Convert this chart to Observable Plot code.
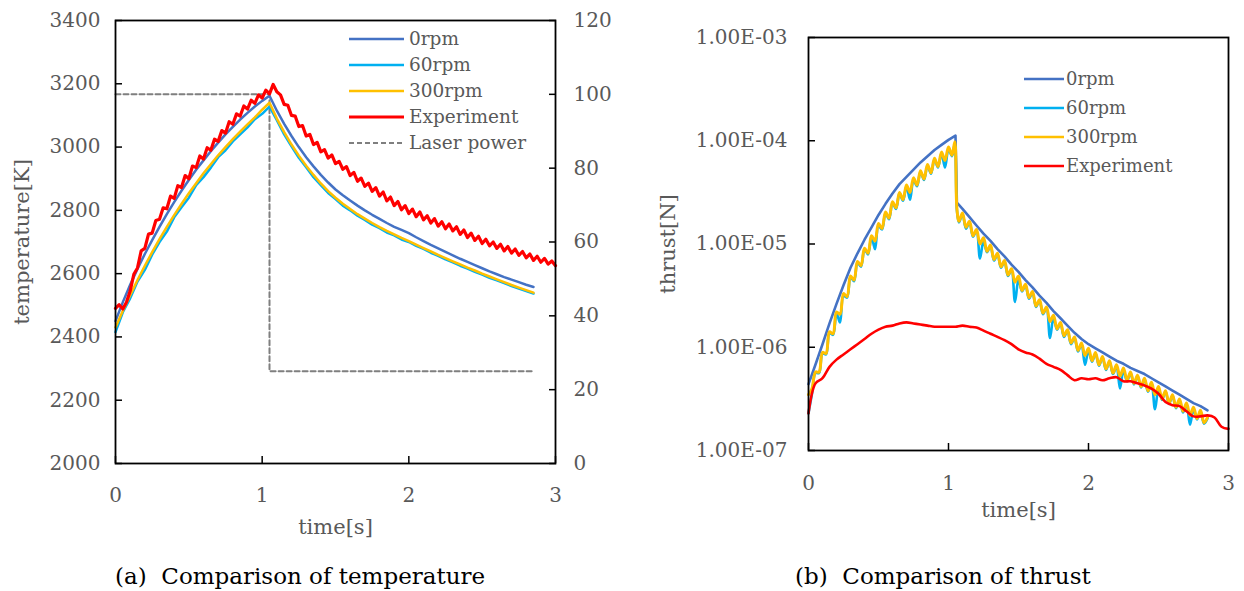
<!DOCTYPE html>
<html><head><meta charset="utf-8">
<script src="https://cdn.jsdelivr.net/npm/d3@7"></script>
<script src="https://cdn.jsdelivr.net/npm/@observablehq/plot@0.6"></script>
<style>
html,body{margin:0;padding:0;background:#fff;}
#root{position:relative;width:1244px;height:591px;overflow:hidden;font-family:"DejaVu Serif",serif;}
.layer{position:absolute;top:0;}
.cap{position:absolute;font-size:23px;color:#000;white-space:pre;line-height:28px;}
.legrow{position:absolute;height:24px;white-space:nowrap;}
.legrow svg{position:absolute;left:0;top:0;}
.legrow span{position:absolute;top:0;line-height:24px;color:#595959;}
</style></head><body><div id="root"></div><script>
// ---------- shared ----------
const seriesNames = ["0rpm", "60rpm", "300rpm", "Experiment"];
const seriesColors = ["#4472C4", "#00B0F0", "#FFC000", "#FF0000"];
const timeTicks = [0, 1, 2, 3];
const tempTicks = [2000, 2200, 2400, 2600, 2800, 3000, 3200, 3400];
const powerTicks = [0, 20, 40, 60, 80, 100, 120];
const thrustTicks = [1e-7, 1e-6, 1e-5, 1e-4, 1e-3];

// ---------- (a) temperature ----------
const tSimL = [0,0.05,0.1,0.15,0.2,0.25,0.3,0.35,0.4,0.45,0.5,0.55,0.6,0.65,0.7,0.75,0.8,0.85,0.9,0.95,1.0,1.05,
  1.1,1.15,1.2,1.25,1.3,1.35,1.4,1.45,1.5,1.55,1.6,1.65,1.7,1.75,1.8,1.85,1.9,1.95,2.0,
  2.05,2.1,2.15,2.2,2.25,2.3,2.35,2.4,2.45,2.5,2.55,2.6,2.65,2.7,2.75,2.8,2.85];
const temp0rpm = [2450,2510,2565,2615,2662,2706,2748,2788,2826,2862,2896,2928,2958,2987,3014,3040,3064,3087,3108,3128,3146,3162,
  3115,3073,3035,3000,2968,2939,2912,2888,2866,2848,2831,2815,2800,2786,2773,2760,2748,2738,2728,
  2715,2703,2691,2680,2669,2658,2647,2637,2627,2617,2607,2598,2589,2581,2573,2565,2558];
const temp60rpm = [2415,2478,2522,2575,2612,2660,2700,2733,2778,2810,2840,2880,2905,2935,2968,2990,3018,3040,3062,3088,3105,3128,
  3085,3040,3002,2966,2936,2905,2880,2855,2836,2815,2800,2783,2770,2755,2744,2730,2721,2708,2700,
  2688,2678,2666,2656,2645,2636,2625,2616,2606,2597,2587,2579,2570,2561,2553,2545,2537];
const temp300rpm = [2430,2483,2532,2580,2625,2668,2709,2748,2785,2820,2854,2886,2917,2946,2974,3000,3025,3049,3072,3094,3118,3140,
  3090,3047,3008,2973,2941,2912,2885,2861,2840,2821,2804,2788,2774,2760,2747,2735,2724,2713,2703,
  2692,2681,2670,2659,2649,2639,2629,2619,2610,2600,2591,2582,2573,2564,2556,2548,2540];
const tExpL = [0,0.025,0.05,0.075,0.1,0.125,0.15,0.175,0.2,0.225,0.25,0.275,0.3,0.325,0.35,0.375,0.4,0.425,0.45,0.475,
  0.5,0.525,0.55,0.575,0.6,0.625,0.65,0.675,0.7,0.725,0.75,0.775,0.8,0.825,0.85,0.875,0.9,0.925,0.95,0.975,
  1.0,1.025,1.05,1.075,1.1,1.125,1.15,1.175,1.2,1.225,1.25,1.275,1.3,1.325,1.35,1.375,1.4,1.425,1.45,1.475,
  1.5,1.525,1.55,1.575,1.6,1.625,1.65,1.675,1.7,1.725,1.75,1.775,1.8,1.825,1.85,1.875,1.9,1.925,1.95,1.975,
  2.0,2.025,2.05,2.075,2.1,2.125,2.15,2.175,2.2,2.225,2.25,2.275,2.3,2.325,2.35,2.375,2.4,2.425,2.45,2.475,
  2.5,2.525,2.55,2.575,2.6,2.625,2.65,2.675,2.7,2.725,2.75,2.775,2.8,2.825,2.85,2.875,2.9,2.925,2.95,2.975,3.0];
const tempExp = [2490,2502,2488,2510,2545,2598,2618,2672,2680,2725,2728,2768,2772,2808,2805,2845,2838,2878,2872,2910,
  2900,2940,2935,2972,2962,2998,2990,3025,3018,3052,3044,3080,3072,3105,3098,3130,3120,3148,3138,3165,
  3155,3180,3168,3198,3175,3165,3135,3132,3100,3098,3065,3068,3035,3040,3008,3015,2985,2992,2965,2975,
  2948,2955,2930,2938,2910,2920,2892,2902,2876,2886,2860,2872,2845,2858,2830,2842,2815,2828,2802,2815,
  2790,2804,2780,2795,2770,2783,2760,2774,2750,2764,2742,2757,2735,2748,2724,2738,2714,2728,2705,2718,
  2695,2709,2688,2700,2680,2693,2672,2686,2665,2678,2658,2670,2650,2662,2642,2655,2636,2648,2630,2640,2625];
const laserT = [0, 1.05, 1.05, 2.85];
const laserPower = [100, 100, 25, 25];

// ---------- (b) thrust ----------
const tSmoothR = [0,0.05,0.1,0.15,0.2,0.25,0.3,0.35,0.4,0.45,0.5,0.55,0.6,0.65,0.7,0.75,0.8,0.85,0.9,0.95,1.0,1.05,1.06,
  1.1,1.15,1.2,1.25,1.3,1.35,1.4,1.45,1.5,1.55,1.6,1.65,1.7,1.75,1.8,1.85,1.9,1.95,2.0,
  2.05,2.1,2.15,2.2,2.25,2.3,2.35,2.4,2.45,2.5,2.55,2.6,2.65,2.7,2.75,2.8,2.85];
const thrust0rpm = [4.4e-7,6.8e-7,1.07e-6,1.70e-6,2.63e-6,3.98e-6,5.89e-6,8.13e-6,1.10e-5,1.45e-5,1.91e-5,2.45e-5,3.09e-5,3.80e-5,4.47e-5,5.25e-5,6.17e-5,7.08e-5,8.13e-5,9.12e-5,1.02e-4,1.12e-4,2.51e-5,
  2.19e-5,1.82e-5,1.51e-5,1.26e-5,1.07e-5,8.91e-6,7.59e-6,6.31e-6,5.37e-6,4.47e-6,3.80e-6,3.16e-6,2.69e-6,2.24e-6,1.91e-6,1.62e-6,1.38e-6,1.20e-6,1.07e-6,
  9.77e-7,8.91e-7,8.13e-7,7.41e-7,6.92e-7,6.31e-7,5.89e-7,5.50e-7,5.01e-7,4.57e-7,4.17e-7,3.80e-7,3.47e-7,3.16e-7,2.88e-7,2.69e-7,2.45e-7];
const tWaveR = [0,0.025,0.05,0.075,0.1,0.125,0.15,0.175,0.2,0.225,0.25,0.275,0.3,0.325,0.35,0.375,0.4,0.425,0.45,0.475,
  0.5,0.525,0.55,0.575,0.6,0.625,0.65,0.675,0.7,0.725,0.75,0.775,0.8,0.825,0.85,0.875,0.9,0.925,0.95,0.975,1.0,1.025,
  1.045,1.06,
  1.075,1.1,1.125,1.15,1.175,1.2,1.225,1.25,1.275,1.3,1.325,1.35,1.375,1.4,1.425,1.45,1.475,1.5,1.525,1.55,1.575,1.6,
  1.625,1.65,1.675,1.7,1.725,1.75,1.775,1.8,1.825,1.85,1.875,1.9,1.925,1.95,1.975,2.0,2.025,2.05,2.075,2.1,2.125,2.15,
  2.175,2.2,2.225,2.25,2.275,2.3,2.325,2.35,2.375,2.4,2.425,2.45,2.475,2.5,2.525,2.55,2.575,2.6,2.625,2.65,2.675,2.7,
  2.725,2.75,2.775,2.8,2.825,2.85];
const thrust60rpm = [2.29e-7,3.55e-7,5.62e-7,5.62e-7,8.71e-7,8.51e-7,1.38e-6,1.32e-6,2.14e-6,1.74e-6,3.16e-6,3.02e-6,4.79e-6,4.37e-6,6.61e-6,6.03e-6,8.91e-6,7.94e-6,1.18e-5,8.91e-6,
  1.51e-5,1.38e-5,2.00e-5,1.74e-5,2.51e-5,2.19e-5,3.09e-5,2.63e-5,3.63e-5,2.69e-5,4.17e-5,3.63e-5,5.01e-5,4.17e-5,5.75e-5,4.79e-5,6.61e-5,5.50e-5,7.59e-5,5.50e-5,8.32e-5,7.08e-5,
  9.33e-5,2.14e-5,
  1.62e-5,1.95e-5,1.41e-5,1.62e-5,1.18e-5,1.35e-5,7.24e-6,1.07e-5,8.32e-6,9.55e-6,6.92e-6,7.94e-6,5.89e-6,6.76e-6,4.90e-6,5.62e-6,2.75e-6,4.57e-6,3.47e-6,3.98e-6,2.95e-6,3.39e-6,
  2.46e-6,2.82e-6,2.09e-6,2.40e-6,1.23e-6,1.95e-6,1.48e-6,1.70e-6,1.26e-6,1.45e-6,1.07e-6,1.23e-6,9.12e-7,1.07e-6,6.76e-7,9.33e-7,7.24e-7,8.71e-7,6.61e-7,7.94e-7,6.03e-7,7.24e-7,
  5.50e-7,6.61e-7,3.98e-7,6.03e-7,4.68e-7,5.62e-7,4.37e-7,5.25e-7,4.07e-7,4.90e-7,3.72e-7,4.47e-7,2.51e-7,3.98e-7,3.09e-7,3.72e-7,2.82e-7,3.39e-7,2.57e-7,3.09e-7,2.34e-7,2.82e-7,
  1.78e-7,2.51e-7,2.00e-7,2.40e-7,1.82e-7,2.04e-7];
const thrust300rpm = [3.47e-7,3.98e-7,5.75e-7,5.75e-7,8.91e-7,8.71e-7,1.41e-6,1.35e-6,2.19e-6,2.09e-6,3.31e-6,3.09e-6,4.90e-6,4.47e-6,6.76e-6,6.17e-6,9.12e-6,8.13e-6,1.20e-5,1.07e-5,
  1.58e-5,1.41e-5,2.04e-5,1.78e-5,2.57e-5,2.24e-5,3.16e-5,2.69e-5,3.72e-5,3.16e-5,4.37e-5,3.72e-5,5.13e-5,4.27e-5,5.89e-5,4.90e-5,6.76e-5,5.62e-5,7.76e-5,6.46e-5,8.71e-5,7.24e-5,
  9.77e-5,2.19e-5,
  1.66e-5,2.00e-5,1.45e-5,1.66e-5,1.20e-5,1.38e-5,1.00e-5,1.15e-5,8.51e-6,9.77e-6,7.08e-6,8.13e-6,6.03e-6,6.92e-6,5.01e-6,5.75e-6,4.27e-6,4.90e-6,3.55e-6,4.07e-6,3.02e-6,3.47e-6,
  2.51e-6,2.88e-6,2.14e-6,2.46e-6,1.78e-6,2.04e-6,1.51e-6,1.74e-6,1.29e-6,1.48e-6,1.10e-6,1.26e-6,9.33e-7,1.10e-6,8.32e-7,9.77e-7,7.41e-7,8.91e-7,6.76e-7,8.13e-7,6.17e-7,7.41e-7,
  5.62e-7,6.76e-7,5.25e-7,6.31e-7,4.79e-7,5.75e-7,4.47e-7,5.37e-7,4.17e-7,5.01e-7,3.80e-7,4.57e-7,3.47e-7,4.17e-7,3.16e-7,3.80e-7,2.88e-7,3.47e-7,2.63e-7,3.16e-7,2.40e-7,2.88e-7,
  2.19e-7,2.63e-7,2.04e-7,2.46e-7,1.86e-7,2.09e-7];
const tExpR = [0,0.05,0.1,0.15,0.2,0.25,0.3,0.35,0.4,0.45,0.5,0.55,0.6,0.65,0.7,0.75,0.8,0.85,0.9,0.95,
  1.0,1.05,1.1,1.15,1.2,1.25,1.3,1.35,1.4,1.45,1.5,1.55,1.6,1.65,1.7,1.75,1.8,1.85,1.9,1.95,
  2.0,2.05,2.1,2.15,2.2,2.25,2.3,2.35,2.4,2.45,2.5,2.55,2.6,2.65,2.7,2.75,2.8,2.85,2.9,2.95,3.0];
const thrustExp = [2.29e-7,4.47e-7,5.01e-7,6.46e-7,7.59e-7,8.51e-7,9.55e-7,1.07e-6,1.20e-6,1.35e-6,1.48e-6,1.58e-6,1.62e-6,1.70e-6,1.74e-6,1.70e-6,1.66e-6,1.62e-6,1.58e-6,1.58e-6,
  1.58e-6,1.58e-6,1.62e-6,1.58e-6,1.55e-6,1.45e-6,1.35e-6,1.26e-6,1.17e-6,1.07e-6,9.55e-7,8.91e-7,8.51e-7,7.76e-7,6.92e-7,6.46e-7,6.03e-7,5.37e-7,4.79e-7,5.01e-7,
  4.90e-7,5.01e-7,4.79e-7,5.01e-7,5.13e-7,4.68e-7,4.68e-7,4.47e-7,4.27e-7,3.98e-7,3.55e-7,2.95e-7,2.75e-7,2.69e-7,2.40e-7,2.14e-7,2.14e-7,2.19e-7,2.09e-7,1.70e-7,1.62e-7];

// ---------- helpers ----------
const gray = "#595959";
const fontStack = "'DejaVu Serif', serif";
const rows = (ts, vs) => ts.map((t, i) => ({t, v: vs[i]}));
const fmtE = d => {
  const [m, e] = d.toExponential(2).split("e");
  const n = +e;
  return m.toUpperCase() + "E" + (n < 0 ? "-" : "+") + String(Math.abs(n)).padStart(2, "0");
};
const root = document.getElementById("root");
function place(node, left) {
  node.classList.add("layer");
  node.style.left = left + "px";
  root.appendChild(node);
}
function legend(x0, lineLen, textGap, y0, dy, fontSize, items) {
  items.forEach((it, i) => {
    const row = document.createElement("div");
    row.className = "legrow";
    row.style.left = x0 + "px";
    row.style.top = (y0 + i * dy - 12) + "px";
    row.style.fontSize = fontSize + "px";
    row.innerHTML = `<svg width="${lineLen + 2}" height="24"><line x1="1" x2="${lineLen + 1}" y1="12" y2="12" stroke="${it.color}" stroke-width="${it.width}" ${it.dash ? `stroke-dasharray="${it.dash}"` : ""}/></svg><span style="left:${lineLen + textGap}px">${it.name}</span>`;
    root.appendChild(row);
  });
}

// ---------- panel (a): laser power layer (right axis) ----------
const W = 620, H = 591;
const mA = {marginLeft: 115, marginRight: 65, marginTop: 20, marginBottom: 128};
const laserPlot = Plot.plot({
  width: W, height: H, ...mA,
  style: {fontFamily: fontStack, fontSize: "20px", background: "transparent"},
  x: {domain: [0, 3], axis: null},
  y: {domain: [0, 120]},
  marks: [
    Plot.axisY({anchor: "right", ticks: powerTicks, tickSize: -7, tickPadding: 25, stroke: "black", strokeWidth: 1.5, fill: gray, tickFormat: d => String(d), label: null}),
    Plot.line(rows(laserT, laserPower), {x: "t", y: "v", stroke: "#7F7F7F", strokeWidth: 2, strokeDasharray: "5,3"})
  ]
});
place(laserPlot, 0);

// ---------- panel (a): temperature ----------
const tempPlot = Plot.plot({
  width: W, height: H, ...mA,
  style: {fontFamily: fontStack, fontSize: "20px", background: "transparent"},
  x: {domain: [0, 3]},
  y: {domain: [2000, 3400]},
  marks: [
    Plot.axisX({ticks: timeTicks, tickSize: -7, tickPadding: 31, stroke: "black", strokeWidth: 1.5, fill: gray, tickFormat: d => String(d), label: null}),
    Plot.axisY({ticks: tempTicks, tickSize: -7, tickPadding: 22, stroke: "black", strokeWidth: 1.5, fill: gray, tickFormat: d => String(d), label: null}),
    Plot.line(rows(tSimL, temp0rpm), {x: "t", y: "v", stroke: seriesColors[0], strokeWidth: 2.5}),
    Plot.line(rows(tSimL, temp60rpm), {x: "t", y: "v", stroke: seriesColors[1], strokeWidth: 2.5}),
    Plot.line(rows(tSimL, temp300rpm), {x: "t", y: "v", stroke: seriesColors[2], strokeWidth: 2.5}),
    Plot.line(rows(tExpL, tempExp), {x: "t", y: "v", stroke: seriesColors[3], strokeWidth: 3.2}),
    Plot.frame({stroke: "black", strokeWidth: 1.8}),
    Plot.text(["time[s]"], {frameAnchor: "bottom", lineAnchor: "middle", dy: 64, fontSize: 21, fill: gray}),
    Plot.text(["temperature[K]"], {frameAnchor: "left", textAnchor: "middle", dx: -93, rotate: -90, fontSize: 21, fill: gray})
  ]
});
place(tempPlot, 0);

// ---------- panel (b): thrust ----------
const thrustPlot = Plot.plot({
  width: 624, height: H,
  marginLeft: 188, marginRight: 16, marginTop: 37, marginBottom: 141,
  style: {fontFamily: fontStack, fontSize: "20px", background: "transparent"},
  x: {domain: [0, 3]},
  y: {type: "log", domain: [1e-7, 1e-3]},
  marks: [
    Plot.axisX({ticks: timeTicks, tickSize: -7, tickPadding: 32, stroke: "black", strokeWidth: 1.5, fill: gray, tickFormat: d => String(d), label: null}),
    Plot.axisY({ticks: thrustTicks, tickSize: -7, tickPadding: 28, stroke: "black", strokeWidth: 1.5, fill: gray, tickFormat: fmtE, label: null}),
    Plot.line(rows(tSmoothR, thrust0rpm), {x: "t", y: "v", stroke: seriesColors[0], strokeWidth: 2.6}),
    Plot.line(rows(tWaveR, thrust60rpm), {x: "t", y: "v", stroke: seriesColors[1], strokeWidth: 2.6, curve: "catmull-rom"}),
    Plot.line(rows(tWaveR, thrust300rpm), {x: "t", y: "v", stroke: seriesColors[2], strokeWidth: 3, curve: "catmull-rom"}),
    Plot.line(rows(tExpR, thrustExp), {x: "t", y: "v", stroke: seriesColors[3], strokeWidth: 2.6, curve: "catmull-rom"}),
    Plot.frame({stroke: "black", strokeWidth: 1.8}),
    Plot.text(["time[s]"], {frameAnchor: "bottom", lineAnchor: "middle", dy: 60, fontSize: 21, fill: gray}),
    Plot.text(["thrust[N]"], {frameAnchor: "left", textAnchor: "middle", dx: -140, rotate: -90, fontSize: 21, fill: gray})
  ]
});
place(thrustPlot, 620);

// ---------- legends ----------
const itemsA = seriesNames.map((n, i) => ({name: n, color: seriesColors[i], width: i === 3 ? 3 : 2.5}))
  .concat([{name: "Laser power", color: "#7F7F7F", width: 2, dash: "5,3"}]);
legend(348, 55, 6, 39, 26, 18.5, itemsA);
const itemsB = seriesNames.map((n, i) => ({name: n, color: seriesColors[i], width: 2.5}));
legend(1023, 40, 3, 79, 29, 18, itemsB);

// ---------- captions ----------
[["(a)  Comparison of temperature", 115], ["(b)  Comparison of thrust", 795]].forEach(([txt, x]) => {
  const d = document.createElement("div");
  d.className = "cap";
  d.textContent = txt;
  d.style.left = x + "px";
  d.style.top = "562px";
  root.appendChild(d);
});
</script></body></html>
